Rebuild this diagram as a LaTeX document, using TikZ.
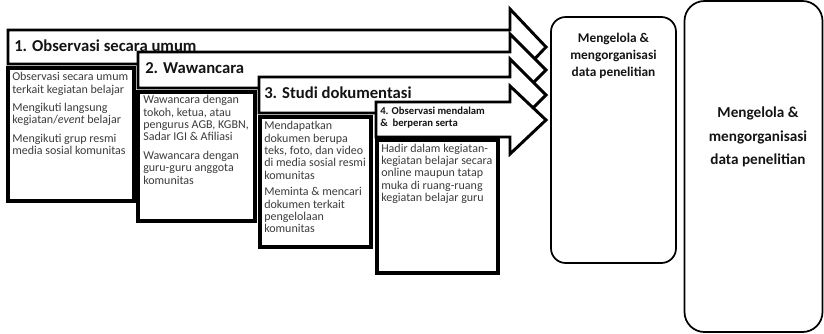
\documentclass[tikz,border=0pt]{standalone}
\usepackage{fontspec}
\setmainfont{Carlito}
\definecolor{bodygray}{HTML}{3C3C3C}
\definecolor{headblack}{HTML}{141414}
\begin{document}
\begin{tikzpicture}[x=0.75pt,y=-0.75pt,
  arrowshape/.style={draw=black, fill=white, line width=2.2pt, line join=miter},
  subbox/.style={draw=black, fill=white, line width=3pt},
  roundbox/.style={draw=black, line width=1.3pt},
  headtext/.style={anchor=west, inner sep=0pt, text=headblack,
    font=\bfseries\fontsize{12.5}{14}\selectfont},
  smallhead/.style={anchor=west, inner sep=0pt, align=left, text=headblack,
    font=\bfseries\fontsize{8}{9}\selectfont},
  bodytext/.style={anchor=north west, inner sep=0pt, align=left, text=bodygray,
    font=\fontsize{9}{9.3}\selectfont},
  resulttext/.style={inner sep=0pt, align=center, text=headblack},
]
\useasboundingbox (0,0) rectangle (824,333);

% stage arrows, later ones lying over the earlier ones
\draw[arrowshape] (8,30) -- (510,30) -- (510,9) -- (546,47) -- (510,85) -- (510,64) -- (8,64) -- cycle;
\draw[arrowshape] (138,52) -- (510,52) -- (510,34) -- (546,70) -- (510,106) -- (510,88) -- (138,88) -- cycle;
\draw[arrowshape] (259,77) -- (510,77) -- (510,59) -- (546,95) -- (510,131) -- (510,113) -- (259,113) -- cycle;
\draw[arrowshape] (376,102) -- (510,102) -- (510,86) -- (546,120) -- (510,154) -- (510,137) -- (376,137) -- cycle;

% detail boxes under each stage
\draw[subbox] (8,68) rectangle (134,201);
\draw[subbox] (138,92) rectangle (255,221);
\draw[subbox] (260,117) rectangle (371,247);
\draw[subbox] (377,140) rectangle (498,273);

% result boxes
\draw[roundbox, rounded corners=11pt] (551,17) rectangle (676,263);
\draw[roundbox, rounded corners=15pt] (684.5,1) rectangle (822.5,332);

% stage titles
\node[headtext] (h1) at (14,45.5) {1. Observasi secara umum};
\node[headtext] (h2) at (145,68.5) {2. Wawancara};
\node[headtext] (h3) at (264,92.5) {3. Studi dokumentasi};
\node[smallhead] (h4) at (380,117.5) {4. Observasi mendalam\\\& \ berperan serta};

% stage details
\node[bodytext] (t1) at (12,72) {Observasi secara umum\\terkait kegiatan belajar\\[4.5pt]Mengikuti langsung\\kegiatan/\textit{event} belajar\\[4.5pt]Mengikuti grup resmi\\media sosial komunitas};
\node[bodytext] (t2) at (143,95) {Wawancara dengan\\tokoh, ketua, atau\\pengurus AGB, KGBN,\\Sadar IGI \& Afiliasi\\[4.5pt]Wawancara dengan\\guru-guru anggota\\komunitas};
\node[bodytext] (t3) at (264,121) {Mendapatkan\\dokumen berupa\\teks, foto, dan video\\di media sosial resmi\\komunitas\\[3pt]Meminta \& mencari\\dokumen terkait\\pengelolaan\\komunitas};
\node[bodytext] (t4) at (381,143.5) {Hadir dalam kegiatan-\\kegiatan belajar secara\\online maupun tatap\\muka di ruang-ruang\\kegiatan belajar guru};

% result labels
\node[resulttext, font=\bfseries\fontsize{10}{12.75}\selectfont] (r1) at (613.5,55.5) {Mengelola \&\\mengorganisasi\\data penelitian};
\node[resulttext, font=\bfseries\fontsize{11.4}{17.6}\selectfont] (r2) at (758,137) {Mengelola \&\\mengorganisasi\\data penelitian};
\end{tikzpicture}
\end{document}
